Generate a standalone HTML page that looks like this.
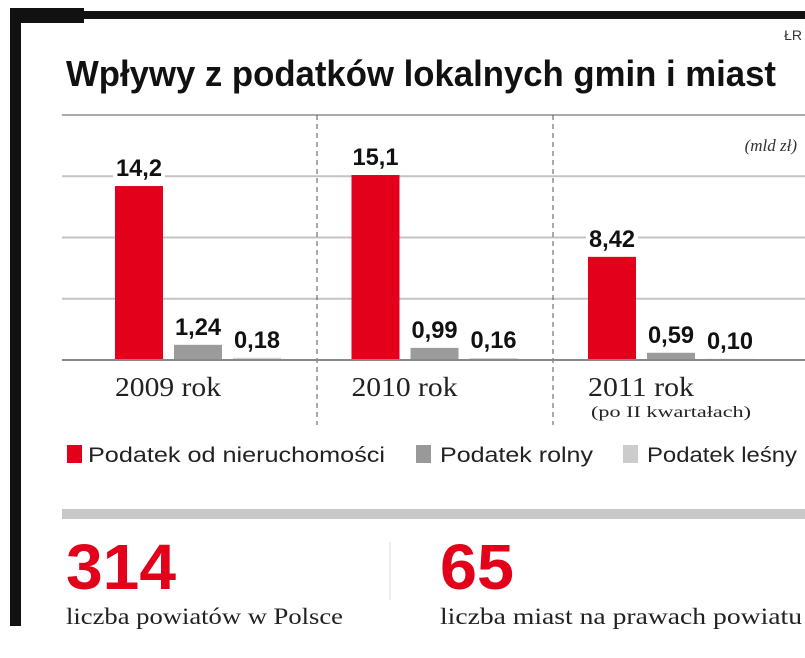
<!DOCTYPE html>
<html><head><meta charset="utf-8"><style>
html,body{margin:0;padding:0;background:#fff}
svg{display:block}
</style></head><body>
<svg id="chart" width="805" height="658" viewBox="0 0 805 658" xmlns="http://www.w3.org/2000/svg" font-family="Liberation Sans, sans-serif">
  <rect x="10" y="8" width="74" height="15" fill="#111"/>
  <rect x="10" y="11" width="795" height="8" fill="#111"/>
  <rect x="10" y="8" width="11" height="618" fill="#111"/>
  <text x="802" y="40" font-size="14" text-anchor="end" fill="#333">ŁR</text>
  <text x="66" y="86" font-size="36" font-weight="bold" textLength="710" lengthAdjust="spacingAndGlyphs" fill="#111">Wpływy z podatków lokalnych gmin i miast</text>
  <text x="797" y="151" font-size="17" font-style="italic" text-anchor="end" font-family="Liberation Serif, serif" fill="#333">(mld zł)</text>
  <g id="grid"></g>
  <g id="bars"></g>
  <g id="legend" font-size="21" fill="#222">
    <rect x="67" y="445" width="15" height="18" fill="#e2001a"/>
    <text x="88" y="462" textLength="297" lengthAdjust="spacingAndGlyphs">Podatek od nieruchomości</text>
    <rect x="416" y="445" width="15" height="18" fill="#999"/>
    <text x="440" y="462" textLength="153" lengthAdjust="spacingAndGlyphs">Podatek rolny</text>
    <rect x="623" y="445" width="15" height="18" fill="#ccc"/>
    <text x="647" y="462" textLength="150" lengthAdjust="spacingAndGlyphs">Podatek leśny</text>
  </g>
  <rect x="62" y="509" width="743" height="10" fill="#c8c8c8"/>
  <line x1="390" y1="542" x2="390" y2="600" stroke="#ddd" stroke-width="1"/>
  <text x="66" y="589" font-size="64" font-weight="bold" fill="#e2001a" textLength="110" lengthAdjust="spacingAndGlyphs">314</text>
  <text x="66" y="624" font-size="23" font-family="Liberation Serif, serif" fill="#222" textLength="277" lengthAdjust="spacingAndGlyphs">liczba powiatów w Polsce</text>
  <text x="440" y="589" font-size="64" font-weight="bold" fill="#e2001a" textLength="74" lengthAdjust="spacingAndGlyphs">65</text>
  <text x="440" y="624" font-size="23" font-family="Liberation Serif, serif" fill="#222" textLength="362" lengthAdjust="spacingAndGlyphs">liczba miast na prawach powiatu</text>
</svg>
<script>
const categories = ["2009 rok", "2010 rok", "2011 rok"];
const subLabels = ["", "", "(po II kwartałach)"];
const seriesNames = ["Podatek od nieruchomości", "Podatek rolny", "Podatek leśny"];
const nieruchomosci = [14.2, 15.1, 8.42];
const rolny = [1.24, 0.99, 0.59];
const lesny = [0.18, 0.16, 0.10];
const valueLabels = [["14,2","15,1","8,42"],["1,24","0,99","0,59"],["0,18","0,16","0,10"]];
const gridTicks = [5, 10, 15, 20];

const NS = "http://www.w3.org/2000/svg";
const baseY = 360, pxPerUnit = 12.25;
const y = v => baseY - v * pxPerUnit;
const groupX = i => 115 + i * 236.5;
const colors = ["#e2001a", "#9b9b9b", "#d3d3d3"];
const series = [nieruchomosci, rolny, lesny];

function mk(tag, attrs, parent) {
  const e = document.createElementNS(NS, tag);
  for (const k in attrs) e.setAttribute(k, attrs[k]);
  parent.appendChild(e);
  return e;
}
const grid = document.getElementById("grid");
gridTicks.forEach((t, i) => {
  const l = mk("line", {x1: 62, x2: 805, y1: y(t), y2: y(t), stroke: i === 3 ? "#aaa" : "#c4c4c4", "stroke-width": 2}, grid);
  
  
});
[317, 553].forEach(x => {
  const l = mk("line", {x1: x, x2: x, y1: 115, y2: 425, stroke: "#555", "stroke-width": 1, "stroke-dasharray": "5,4"}, grid);
  
  
});
const bars = document.getElementById("bars");
categories.forEach((c, i) => {
  series.forEach((s, j) => {
    const x = groupX(i) + j * 59;
    const r = mk("rect", {x: x, y: y(s[i]), width: 48, height: baseY - y(s[i]), fill: colors[j]}, bars);
    
    
    const tw = valueLabels[j][i].length * 11;
    const bg = mk("rect", {x: x + 24 - tw/2 - 4, y: y(s[i]) - 34, width: tw + 8, height: 28, fill: "#fff"}, bars);
    
    
    const t = mk("text", {x: x + 24, y: y(s[i]) - 10, "text-anchor": "middle", "font-size": 24, "font-weight": "bold", fill: "#111", textLength: tw + 2, lengthAdjust: "spacingAndGlyphs"}, bars);
    t.textContent = valueLabels[j][i];
    
    
  });
  const cl = mk("text", {x: groupX(i), y: 396, "font-size": 27, "font-family": "Liberation Serif, serif", fill: "#222", textLength: 106, lengthAdjust: "spacingAndGlyphs"}, bars);
  cl.textContent = c;
  
  
  if (subLabels[i]) {
    const sl = mk("text", {x: groupX(i) + 3, y: 417, "font-size": 16, "font-family": "Liberation Serif, serif", fill: "#222", textLength: 160, lengthAdjust: "spacingAndGlyphs"}, bars);
    sl.textContent = subLabels[i];
    
    
  }
});
mk("line", {x1: 62, x2: 805, y1: baseY, y2: baseY, stroke: "#888", "stroke-width": 2}, bars);
</script>
</body></html>
